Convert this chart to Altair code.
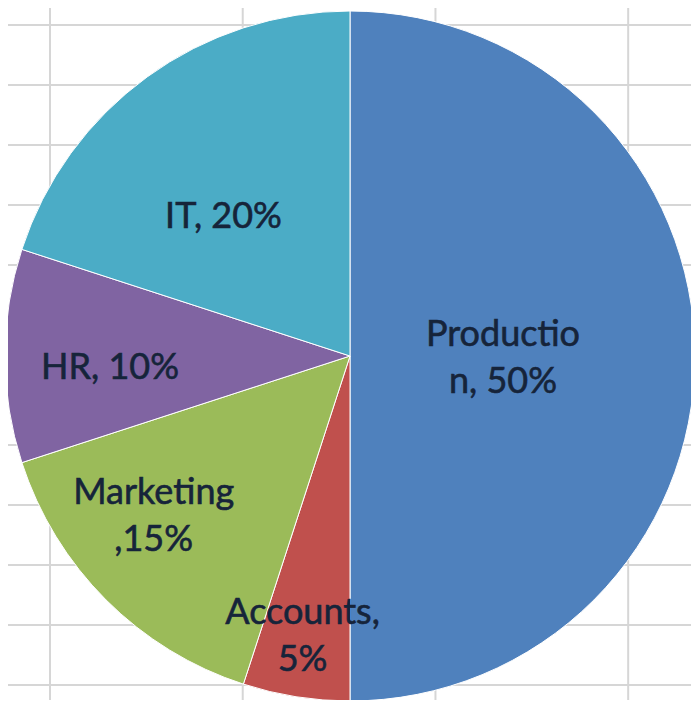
import altair as alt
import pandas as pd

# ---- data ----
departments = ["Production", "Accounts", "Marketing", "HR", "IT"]
shares = [50, 5, 15, 10, 20]
label_texts = ["Productio\nn, 50%", "Accounts,\n5%", "Marketing\n,15%", "HR, 10%", "IT, 20%"]
slice_colors = ["#4F81BD", "#C0504D", "#9BBB59", "#8064A2", "#4BACC6"]
grid_cols = [0, 1, 2, 3]
grid_rows = list(range(12))

df = pd.DataFrame({
    "dept": departments,
    "share": shares,
    "label": label_texts,
    "idx": list(range(len(departments))),
})
cols_df = pd.DataFrame({"col": grid_cols})
rows_df = pd.DataFrame({"row": grid_rows})

W, H = 683, 692
CX, CY = 342, 348
R = 345
FONT = "Lato"
TXT = "#16243a"
FS = 36
LH = 47

grid_color = "#d6d6d6"
vlines = alt.Chart(cols_df).mark_rule(color=grid_color, strokeWidth=2).encode(
    x=alt.X("col:Q", axis=None,
            scale=alt.Scale(domain=[-0.218, 3.326], nice=False, zero=False))
)
hlines = alt.Chart(rows_df).mark_rule(color=grid_color, strokeWidth=2).encode(
    y=alt.Y("row:Q", axis=None,
            scale=alt.Scale(domain=[-0.2833, 11.25], nice=False, zero=False, reverse=True))
)

pie = alt.Chart(df).mark_arc(radius=R, stroke="white", strokeWidth=1).encode(
    theta=alt.Theta("share:Q", stack=True),
    order=alt.Order("idx:Q"),
    color=alt.Color("dept:N", legend=None,
                    scale=alt.Scale(domain=departments, range=slice_colors)),
    x=alt.value(CX),
    y=alt.value(CY),
)

# label placement (radius, dx, dy) per slice, mimicking Excel's best-fit labels
placement = {
    "Production": (153, 0, -21),
    "Accounts": (284, -3, -24),
    "Marketing": (255, -16, -43),
    "HR": (240, 0, 12),
    "IT": (188, -16, 13),
}

base = alt.Chart(df).transform_stack(
    stack="share", groupby=[], as_=["s0", "s1"], sort=[alt.SortField("idx")]
).transform_joinaggregate(total="sum(share)").transform_calculate(
    mid="((datum.s0 + datum.s1) / 2) / datum.total"
)

label_layers = []
for d in departments:
    r, dx, dy = placement[d]
    label_layers.append(
        base.transform_filter(alt.datum.dept == d).mark_text(
            radius=r, dx=dx, dy=dy, font=FONT, fontSize=FS, color=TXT,
            stroke=TXT, strokeWidth=0.6,
            lineBreak="\n", lineHeight=LH, align="center", baseline="middle",
        ).encode(
            theta=alt.Theta("mid:Q", stack=None,
                            scale=alt.Scale(domain=[0, 1], range=[0, 6.283185307179586])),
            text="label:N",
            x=alt.value(CX),
            y=alt.value(CY),
        )
    )

chart = alt.layer(vlines, hlines, pie, *label_layers).resolve_scale(
    theta="independent"
).properties(
    width=W, height=H, padding=0, autosize=alt.AutoSizeParams(type="none"),
    background="white",
).configure_view(stroke=None)

chart.save("out.html", embed_options={"renderer": "svg", "actions": False})
